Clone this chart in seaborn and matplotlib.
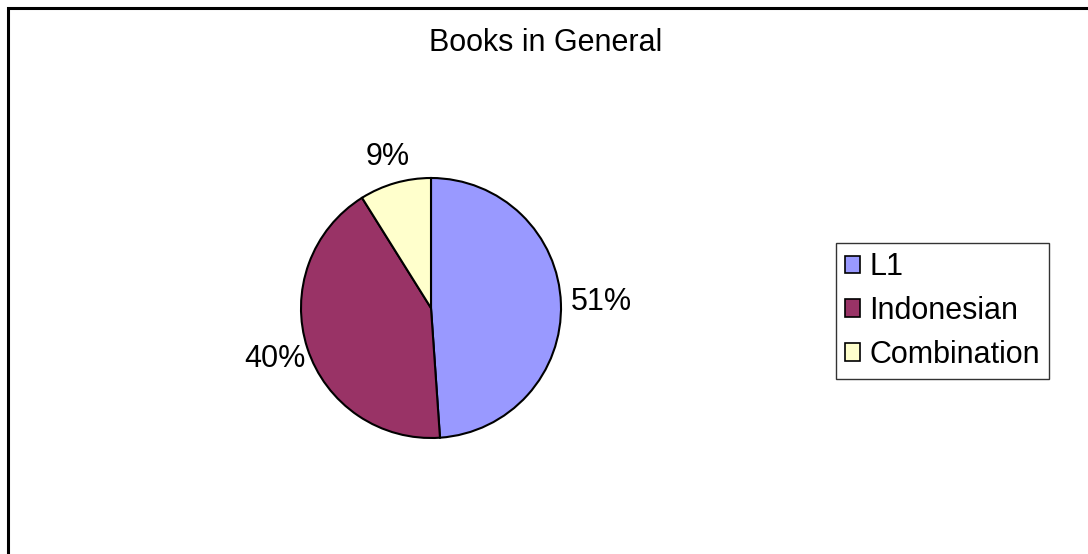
import matplotlib
matplotlib.use("Agg")
import matplotlib.pyplot as plt
import seaborn as sns
from matplotlib.patches import Rectangle, Patch

sns.set_theme(style="white")
plt.rcParams['font.family'] = ['Liberation Sans', 'DejaVu Sans']
plt.rcParams['text.color'] = 'black'

title = "Books in General"
categories = ["L1", "Indonesian", "Combination"]
shares = [48.9, 42.2, 8.9]          # wedge sizes as drawn
share_labels = ["51%", "40%", "9%"]  # printed labels
colors = ["#9999FF", "#993366", "#FFFFCC"]
label_dist = [1.31, 1.26, 1.21]

W, H = 1088, 554
FS = 22
fig = plt.figure(figsize=(W / 100, H / 100), dpi=100)
fig.patch.set_facecolor("white")

# outer frame (only top & left visible in the crop)
fig.add_artist(Rectangle((8 / W, -0.1), 1.2, 1 - 8 / H + 0.1, transform=fig.transFigure,
                         fill=False, edgecolor="black", linewidth=2.2))

cx, cy, R = 431, 308, 130
half = 200
ax = fig.add_axes([(cx - half) / W, (H - cy - half) / H, 2 * half / W, 2 * half / H])

wedges, texts = ax.pie(shares, labels=share_labels, colors=colors, startangle=90,
                       counterclock=False, radius=1.0, labeldistance=1.0,
                       wedgeprops=dict(edgecolor="black", linewidth=1.5),
                       textprops=dict(fontsize=FS, color="black"))
for t, d in zip(texts, label_dist):
    x, y = t.get_position()
    t.set_position((x * d, y * d))
    t.set_ha("center")
    t.set_va("center")
lim = half / R
ax.set_xlim(-lim, lim)
ax.set_ylim(-lim, lim)
ax.set_aspect("equal")
ax.axis("off")

fig.text(546 / W, 1 - 43 / H, title, ha="center", va="center", fontsize=FS, color="black")

handles = [Patch(facecolor=c, edgecolor="black", linewidth=1.2) for c in colors]
leg = fig.legend(handles, categories, loc="upper left",
                 bbox_to_anchor=(836 / W, 1 - 243 / H), bbox_transform=fig.transFigure,
                 fontsize=FS, frameon=True, fancybox=False, shadow=False,
                 handlelength=0.5, handleheight=0.5, handletextpad=0.3,
                 labelspacing=0.45, borderpad=0.3, borderaxespad=0)
for t in leg.get_texts():
    t.set_color("black")
leg.get_frame().set_edgecolor("black")
leg.get_frame().set_linewidth(1.0)
leg.get_frame().set_facecolor("white")

fig.savefig("out.png", dpi=100, facecolor="white")
